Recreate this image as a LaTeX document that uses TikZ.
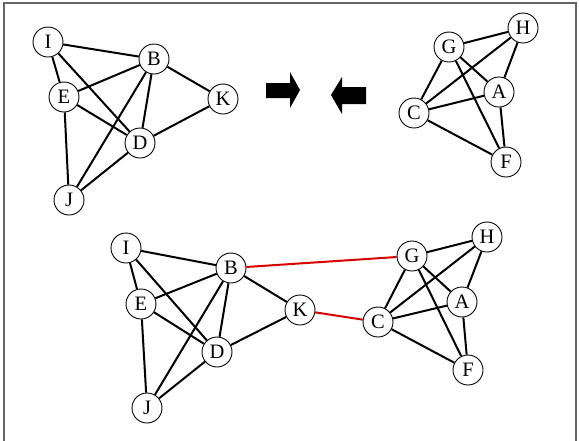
\documentclass[tikz,border=0pt]{standalone}
\usepackage{fontspec}
\setmainfont{Liberation Serif}
\begin{document}
\begin{tikzpicture}[x=1pt,y=-1pt,
  vtx/.style={circle,draw=black,line width=0.9pt,fill=white,minimum size=30pt,inner sep=0pt,font=\fontsize{20.5}{20.5}\selectfont},
  edge/.style={line width=2pt,black},
  redge/.style={line width=2pt,red!85!black},
  bigarrow/.style={fill=black,draw=none}]
\useasboundingbox (0,0) rectangle (579,440);
\draw[line width=2pt,gray!80!black] (4,441) -- (4,3) -- (576,3) -- (576,441);
% top-left graph
\node[vtx] (I1) at (48,42) {I};
\node[vtx] (B1) at (154,59) {B};
\node[vtx] (E1) at (64,97) {E};
\node[vtx] (K1) at (223,99) {K};
\node[vtx] (D1) at (140,143) {D};
\node[vtx] (J1) at (69,200) {J};
% top-right graph
\node[vtx] (G1) at (449,47) {G};
\node[vtx] (H1) at (523,28) {H};
\node[vtx] (A1) at (499,92) {A};
\node[vtx] (C1) at (414,113) {C};
\node[vtx] (F1) at (506,162) {F};
% bottom graph
\node[vtx] (I2) at (126,248) {I};
\node[vtx] (B2) at (231,268) {B};
\node[vtx] (E2) at (141,304) {E};
\node[vtx] (K2) at (300,310) {K};
\node[vtx] (D2) at (217,352) {D};
\node[vtx] (J2) at (147,408) {J};
\node[vtx] (G2) at (412,256) {G};
\node[vtx] (H2) at (487,237) {H};
\node[vtx] (A2) at (462,302) {A};
\node[vtx] (C2) at (378,322) {C};
\node[vtx] (F2) at (468,370) {F};
% edges
\foreach \s in {1,2}{
  \draw[edge] (I\s) -- (B\s);
  \draw[edge] (I\s) -- (E\s);
  \draw[edge] (I\s) -- (D\s);
  \draw[edge] (E\s) -- (B\s);
  \draw[edge] (E\s) -- (D\s);
  \draw[edge] (E\s) -- (J\s);
  \draw[edge] (B\s) -- (J\s);
  \draw[edge] (B\s) -- (D\s);
  \draw[edge] (B\s) -- (K\s);
  \draw[edge] (K\s) -- (D\s);
  \draw[edge] (D\s) -- (J\s);
  \draw[edge] (G\s) -- (H\s);
  \draw[edge] (G\s) -- (C\s);
  \draw[edge] (G\s) -- (A\s);
  \draw[edge] (G\s) -- (F\s);
  \draw[edge] (H\s) -- (C\s);
  \draw[edge] (H\s) -- (A\s);
  \draw[edge] (C\s) -- (A\s);
  \draw[edge] (C\s) -- (F\s);
  \draw[edge] (A\s) -- (F\s);
}
\draw[redge] (B2) -- (G2);
\draw[redge] (K2) -- (C2);
% big arrows
\fill[bigarrow] (266,83) -- (290,83) -- (290,72) -- (300,90) -- (290,108) -- (290,98) -- (266,98) -- cycle;
\fill[bigarrow] (366,87) -- (342,87) -- (342,77) -- (331,95) -- (342,114) -- (342,104) -- (366,104) -- cycle;
\end{tikzpicture}
\end{document}
